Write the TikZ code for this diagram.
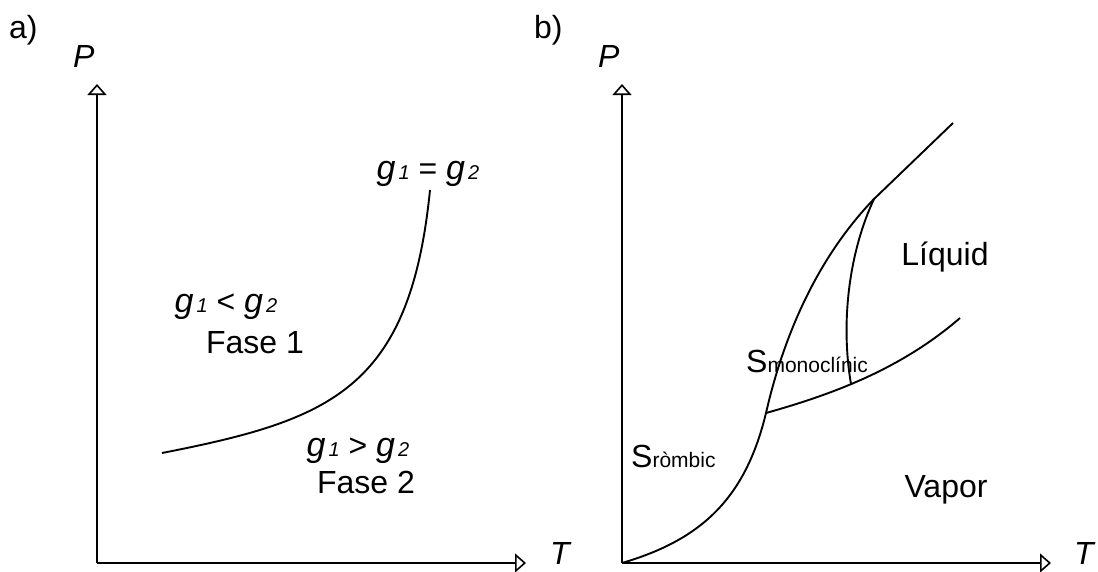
\documentclass[tikz,border=0pt]{standalone}
\usepackage{fontspec}
\setmainfont{Liberation Sans}
\usetikzlibrary{arrows.meta}
\newcommand{\gsb}[1]{{\fontsize{34}{38}\selectfont\textit{g}}\kern3pt{\fontsize{20}{20}\selectfont\textit{#1}}}
\begin{document}
\begin{tikzpicture}[x=1pt,y=-1pt,
  axis/.style={line width=1.8pt,-{Triangle[open,length=11pt,width=19pt,line width=1.6pt]}},
  curve/.style={line width=1.9pt},
  lbl/.style={inner sep=0pt,anchor=base west,font=\fontsize{32}{38}\selectfont},
  lblc/.style={inner sep=0pt,anchor=base,font=\fontsize{32}{38}\selectfont}]
\useasboundingbox (0,0) rectangle (1098,571);
% panel a
\coordinate (oa) at (97,563);
\coordinate (ya) at (97,84);
\coordinate (xa) at (526,563);
\draw[axis] (oa) -- (ya);
\draw[axis] (oa) -- (xa);
\node[lbl] (la) at (9,38) {a)};
\node[lbl] (pa) at (73,67) {\textit{P}};
\node[lbl] (ta) at (550,564) {\textit{T}};
\coordinate (ca0) at (162,453);
\coordinate (ca2) at (430,190);
\draw[curve] (ca0) .. controls (330,420) and (410,390) .. (ca2);
\node[lblc] (geq) at (428,179) {\gsb{1} = \gsb{2}};
\node[lblc] (glt) at (226,312) {\gsb{1} < \gsb{2}};
\node[lblc] (f1) at (255,353) {Fase 1};
\node[lblc] (ggt) at (358,456) {\gsb{1} > \gsb{2}};
\node[lblc] (f2) at (366,493) {Fase 2};
% panel b
\coordinate (ob) at (622,563);
\coordinate (yb) at (622,84);
\coordinate (xb) at (1051,563);
\draw[axis] (ob) -- (yb);
\draw[axis] (ob) -- (xb);
\node[lbl] (lb) at (534,38) {b)};
\node[lbl] (pb) at (598,67) {\textit{P}};
\node[lbl] (tb) at (1074,564) {\textit{T}};
\coordinate (tp1) at (766,413);
\coordinate (tp2) at (874,199);
\coordinate (endl) at (953,123);
\coordinate (endv) at (960,318);
\coordinate (mv) at (851,384);
\draw[curve] (ob) .. controls (700,540) and (745,500) .. (tp1) .. controls (785,330) and (820,255) .. (tp2) -- (endl);
\draw[curve] (tp1) .. controls (830,395) and (900,370) .. (endv);
\draw[curve] (tp2) .. controls (850,250) and (840,320) .. (mv);
\node[lblc] (liq) at (945,265) {Líquid};
\node[lblc] (vap) at (946,497) {Vapor};
\node[lbl] (srom) at (631,467) {S{\fontsize{21}{24}\selectfont ròmbic}};
\node[lbl] (smon) at (746,372) {S{\fontsize{21}{24}\selectfont monoclínic}};
\end{tikzpicture}
\end{document}
